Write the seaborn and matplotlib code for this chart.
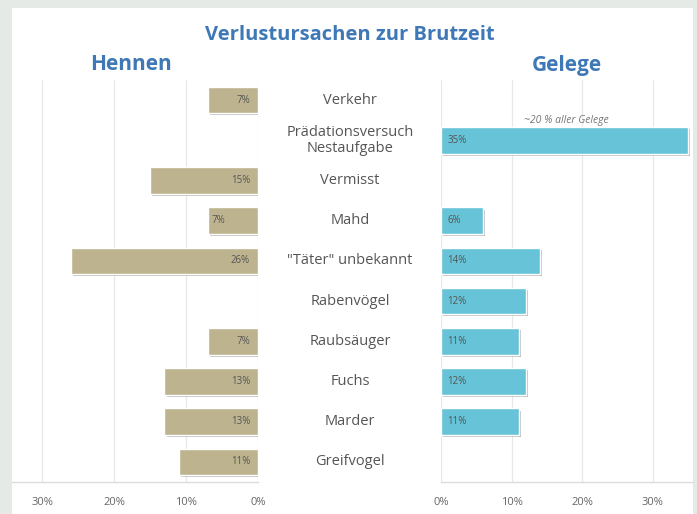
import matplotlib
matplotlib.use("Agg")
import matplotlib.pyplot as plt
import matplotlib.patheffects as pe
from matplotlib.patches import Rectangle
from matplotlib.transforms import blended_transform_factory
import pandas as pd
import seaborn as sns

# Loss causes during the breeding season
categories = ["Verkehr", "Prädationsversuch\nNestaufgabe", "Vermisst", "Mahd",
              "\"Täter\" unbekannt", "Rabenvögel", "Raubsäuger", "Fuchs",
              "Marder", "Greifvogel"]
hennen = [7, None, 15, 7, 26, None, 7, 13, 13, 11]
gelege = [None, 35, None, 6, 14, 12, 11, 12, 11, None]
tick_values = [0, 10, 20, 30]
tick_labels = ["0%", "10%", "20%", "30%"]

sns.set_theme(style="white")
plt.rcParams["font.family"] = ["Open Sans", "DejaVu Sans"]

W, H = 697, 514
fig = plt.figure(figsize=(W / 100, H / 100), dpi=100)
fig.patch.set_facecolor("#e5eae7")
fig.patches.append(Rectangle((12 / W, 0), (693 - 12) / W, (514 - 8) / H,
                             transform=fig.transFigure, facecolor="white",
                             edgecolor="none", zorder=-5))

bottom = (H - 482) / H
top = (H - 80) / H
ax_l = fig.add_axes([12 / W, bottom, (258 - 12) / W, top - bottom])
ax_r = fig.add_axes([441 / W, bottom, (693 - 441) / W, top - bottom])

hen_col = "#bdb48f"
gel_col = "#67c4d8"
grid_col = "#e8e8e8"
text_col = "#555555"
blue = "#3f78b6"

df_h = pd.DataFrame({"Ursache": categories, "Anteil": hennen}).dropna()
df_g = pd.DataFrame({"Ursache": categories, "Anteil": gelege}).dropna()

shadow = [pe.SimplePatchShadow(offset=(1.5, -1.5), shadow_rgbFace="#777777",
                               alpha=0.45), pe.Normal()]

sns.barplot(data=df_h, x="Anteil", y="Ursache", order=categories, orient="h",
            color=hen_col, width=0.66, saturation=1, ax=ax_l, zorder=3)
sns.barplot(data=df_g, x="Anteil", y="Ursache", order=categories, orient="h",
            color=gel_col, width=0.66, saturation=1, ax=ax_r, zorder=3)

for ax in (ax_l, ax_r):
    ax.set_zorder(2)
    for p in ax.patches:
        p.set_path_effects(shadow)
    ax.set_facecolor("none")
    ax.set_ylim(9.5, -0.5)
    ax.set_xlabel("")
    ax.set_ylabel("")
    ax.set_yticks([])
    ax.set_xticks(tick_values)
    ax.set_xticklabels(tick_labels)
    ax.tick_params(axis="x", length=0, pad=11, labelsize=8, labelcolor="#666666")
    for v in tick_values:
        ax.axvline(v, color=grid_col, lw=0.9, zorder=1)
    for s in ("top", "left", "right"):
        ax.spines[s].set_visible(False)
    ax.spines["bottom"].set_color("#dcdcdc")
    ax.spines["bottom"].set_linewidth(1.0)

ax_l.set_xlim(34.2, 0)
ax_r.set_xlim(0, 35.7)

# value labels inside the bars
for i, v in enumerate(hennen):
    if v is None:
        continue
    if categories[i] == "Mahd":
        ax_l.text(v - 0.6, i, f"{v}%", ha="left", va="center",
                  fontsize=7, color=text_col, zorder=4)
    else:
        ax_l.text(1.1, i, f"{v}%", ha="right", va="center",
                  fontsize=7, color=text_col, zorder=4)
for i, v in enumerate(gelege):
    if v is None:
        continue
    ax_r.text(0.9, i, f"{v}%", ha="left", va="center",
              fontsize=7, color=text_col, zorder=4)

ax_r.text(17.7, 0.5, "~20 % aller Gelege", ha="center", va="center",
          fontsize=7.5, style="italic", color="#777777")

# category names between the two panels
tr = blended_transform_factory(fig.transFigure, ax_l.transData)
for i, c in enumerate(categories):
    fig.text(350 / W, i, c, transform=tr, ha="center", va="center",
             fontsize=10.5, color=text_col, linespacing=1.1)

fig.text(350 / W, (H - 35) / H, "Verlustursachen zur Brutzeit", ha="center",
         va="center", fontsize=14.5, fontweight="bold", color=blue)
fig.text(131 / W, (H - 64) / H, "Hennen", ha="center", va="center",
         fontsize=15, fontweight="bold", color=blue)
fig.text(567 / W, (H - 65) / H, "Gelege", ha="center", va="center",
         fontsize=15, fontweight="bold", color=blue)

fig.savefig("out.png", dpi=100, facecolor=fig.get_facecolor())
